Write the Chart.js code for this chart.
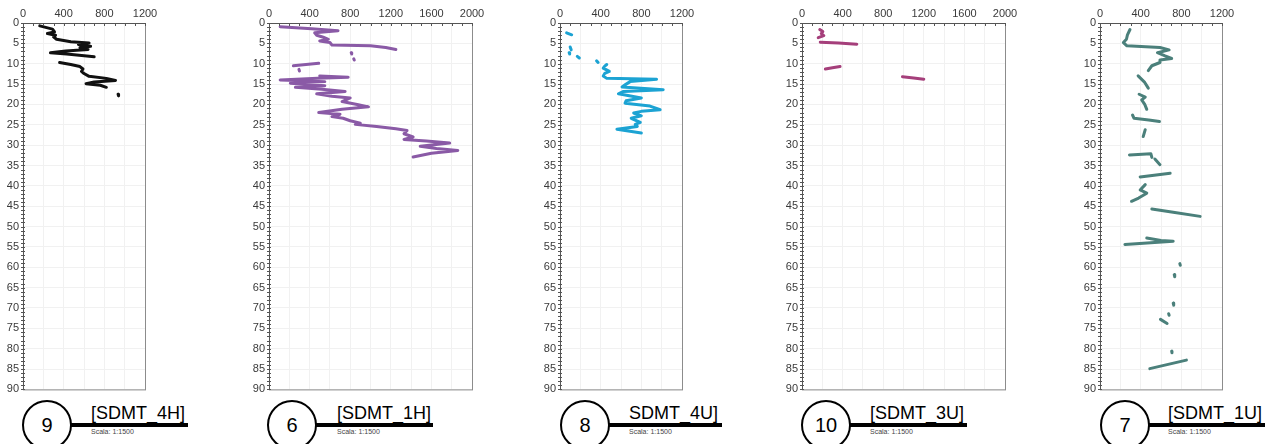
<!DOCTYPE html>
<html>
<head>
<meta charset="utf-8">
<script src="https://cdn.jsdelivr.net/npm/chart.js@4/dist/chart.umd.min.js"></script>
<style>
  body { margin: 0; background: #fff; width: 1266px; height: 444px; position: relative; overflow: hidden; font-family: "Liberation Sans", Arial, sans-serif; }
  canvas { position: absolute; top: 0; }
  .circ { position: absolute; width: 46px; height: 46px; border: 2px solid #000; border-radius: 50%; box-sizing: content-box; text-align: center; line-height: 46px; font-size: 20px; background: #fff; }
  .bar { position: absolute; height: 4px; background: #000; }
  .name { position: absolute; font-size: 18px; line-height: 18px; white-space: nowrap; color: #000; }
  .scala { position: absolute; font-size: 7px; line-height: 7px; color: #444; white-space: nowrap; }
</style>
</head>
<body>
<script>
// ---- dati (profondita' m / valore) ----
var panelNums = ['9', '6', '8', '10', '7'];
var panelNames = ['[SDMT_4H]', '[SDMT_1H]', 'SDMT_4U]', '[SDMT_3U]', '[SDMT_1U]'];
var xMaxs = [1200, 2000, 1200, 2000, 1200];
var colors = ['#111111', '#8a5aa6', '#1ca3d3', '#a53f7b', '#4b807b'];

var depth1 = [0.7, 1.5, 2.2, 2.6, 3.0, 3.4, 4.0, 4.6, 4.9, 5.3, 5.7, 6.1, 6.5, 6.9, 7.3, 7.6, 8.3, null, 9.7, 10.2, 10.7, 11.3, 11.9, 12.4, 13.1, 13.6, 14.1, 14.5, 14.9, 15.3, 15.8, null, 17.5, 17.9];
var val1 = [165, 290, 310, 240, 320, 300, 330, 470, 650, 545, 665, 560, 640, 420, 270, 430, 700, null, 360, 470, 560, 590, 575, 600, 650, 820, 910, 700, 620, 760, 820, null, 935, 940];

var depth2 = [0.9, 1.4, 1.9, 2.4, 3.0, 3.5, 4.0, 4.4, 4.8, 5.4, 5.6, 6.0, 6.5, null, 7.3, 7.6, null, 8.8, 9.1, null, 9.9, 10.5, null, 11.4, 11.8, null, 13.0, 13.3, 13.6, 14.0, 14.4, 14.8, 15.4, 15.8, 16.3, 16.8, 17.4, 18.0, 18.4, 19.3, 20.1, 20.6, 21.2, 22.0, 22.4, 23.0, 23.4, 24.0, 24.6, 24.9, 25.4, 26.0, 26.4, 27.2, 28.0, 28.6, 29.0, 29.5, 30.3, 30.8, 31.3, 32.0, 32.9];
var val2 = [110, 420, 680, 450, 470, 535, 585, 500, 600, 620, 1000, 1150, 1250, null, 810, 815, null, 835, 840, null, 490, 240, null, 295, 300, null, 500, 780, 480, 110, 550, 210, 550, 260, 520, 750, 470, 620, 800, 720, 880, 980, 720, 490, 700, 620, 730, 800, 900, 850, 1060, 1250, 1360, 1330, 1420, 1330, 1550, 1780, 1490, 1650, 1860, 1600, 1420];

var depth3 = [2.4, 2.9, null, 5.9, 6.6, null, 7.3, 7.6, null, 8.2, 8.6, null, 9.3, 9.7, null, 10.2, 10.6, 11.1, 11.9, 12.4, 13.0, 13.6, 13.8, 14.4, 15.2, 15.7, 16.4, 16.8, 17.4, 18.4, 19.1, 19.7, 20.4, 21.3, 21.7, 22.1, 22.8, 23.4, 24.4, 24.9, 25.4, 26.1, 27.0];
var val3 = [65, 115, null, 100, 110, null, 90, 95, null, 170, 190, null, 360, 375, null, 460, 440, 425, 485, 440, 425, 460, 950, 690, 640, 610, 1015, 625, 575, 800, 650, 640, 885, 985, 800, 725, 800, 700, 790, 740, 760, 560, 800];

var depth4 = [1.6, 2.1, 2.6, 3.1, 3.6, null, 4.7, 4.9, 5.2, null, 10.7, 11.0, 11.3, null, 13.2, 13.5, 13.8];
var val4 = [175, 205, 190, 215, 160, null, 180, 360, 540, null, 375, 300, 230, null, 990, 1100, 1200];

var depth5 = [1.6, 2.9, 4.0, 4.8, 5.6, 6.0, 6.6, 7.3, 8.1, 8.7, 9.1, 9.7, 10.5, 11.7, null, 13.0, 14.6, 16.0, null, 17.5, 18.2, 18.9, 20.0, 21.2, null, 22.6, 23.4, 23.8, 24.2, null, 26.2, 27.9, null, 32.4, 32.1, 33.0, null, 33.4, 34.8, null, 37.8, 36.9, null, 39.7, 41.0, 41.8, 43.0, 43.8, null, 45.7, 46.5, 47.5, null, 52.8, 53.4, 53.6, 54.0, 54.4, null, 59.1, 59.5, null, 61.8, 62.3, null, 68.8, 69.3, null, 71.4, 71.8, null, 72.8, 73.8, null, 80.6, 81.0, null, 84.9, 82.8];
var val5 = [295, 270, 260, 230, 265, 590, 680, 565, 640, 705, 590, 590, 510, 475, null, 375, 440, 475, null, 385, 445, 410, 440, 460, null, 320, 335, 480, 585, null, 445, 425, null, 290, 500, 510, null, 540, 590, null, 395, 690, null, 445, 395, 460, 380, 310, null, 510, 720, 985, null, 460, 600, 720, 500, 245, null, 785, 790, null, 730, 735, null, 720, 725, null, 675, 680, null, 595, 660, null, 705, 708, null, 490, 850];

var depths = [depth1, depth2, depth3, depth4, depth5];
var vals = [val1, val2, val3, val4, val5];

// ---- impaginazione ----
var plotLeft = [23, 269, 560, 802, 1100];
var plotRight = [145, 472, 682, 1005, 1222];
var circX = [47, 292, 585, 826, 1125];
var barEnd = [188, 433, 722, 967, 1265];
var nameX = [91, 337, 629, 870, 1168];
var AXW = 30, PADR = 16;

var tickFont = { family: '"Liberation Sans", Arial, sans-serif', size: 11 };

var framePlugin = {
	id: 'frame',
	afterDatasetsDraw: function (chart) {
		var ctx = chart.ctx, a = chart.chartArea, sx = chart.scales.x, sy = chart.scales.y;
		ctx.save();
		ctx.lineWidth = 1;
		ctx.strokeStyle = '#8c8c8c';
		ctx.strokeRect(a.left + 0.5, a.top + 0.5, a.right - a.left, a.bottom - a.top);
		ctx.strokeStyle = '#555';
		ctx.beginPath();
		ctx.moveTo(a.left + 0.5, a.bottom); ctx.lineTo(a.left + 0.5, a.top + 0.5); ctx.lineTo(a.right, a.top + 0.5);
		// tacche minori
		for (var v = 0; v <= sx.max; v += 100) {
			var px = Math.round(sx.getPixelForValue(v)) + 0.5;
			ctx.moveTo(px, a.top); ctx.lineTo(px, a.top + 3);
		}
		for (var d = 0; d <= sy.max; d++) {
			var py = Math.round(sy.getPixelForValue(d)) + 0.5;
			ctx.moveTo(a.left - 2, py); ctx.lineTo(a.left + 2, py);
		}
		ctx.stroke();
		ctx.restore();
	}
};

function toPoints(dep, val) {
	var pts = [];
	for (var i = 0; i < dep.length; i++) {
		pts.push({ x: val[i], y: dep[i] });
	}
	return pts;
}

function addHtml(cls, css, text) {
	var el = document.createElement('div');
	el.className = cls;
	for (var k in css) el.style[k] = css[k] + 'px';
	if (text) el.textContent = text;
	document.body.appendChild(el);
	return el;
}

for (var i = 0; i < 5; i++) {
	var cv = document.createElement('canvas');
	var w = AXW + (plotRight[i] - plotLeft[i]) + PADR;
	cv.width = w; cv.height = 400;
	cv.style.left = (plotLeft[i] - AXW) + 'px';
	cv.style.width = w + 'px'; cv.style.height = '400px';
	document.body.appendChild(cv);

	new Chart(cv.getContext('2d'), {
		type: 'scatter',
		data: {
			datasets: [{
				data: toPoints(depths[i], vals[i]),
				showLine: true,
				spanGaps: false,
				borderColor: colors[i],
				backgroundColor: colors[i],
				borderWidth: 3,
				borderCapStyle: 'round',
				borderJoinStyle: 'round',
				pointRadius: 0,
				tension: 0
			}]
		},
		options: {
			responsive: false,
			animation: false,
			devicePixelRatio: 1,
			layout: { padding: { top: 0, left: 0, right: PADR, bottom: 10 } },
			plugins: { legend: { display: false }, tooltip: { enabled: false } },
			scales: {
				x: {
					type: 'linear', position: 'top', min: 0, max: xMaxs[i],
					afterFit: function (s) { s.height = 23; },
					border: { display: false },
					grid: { color: '#f1f1f1', drawTicks: false },
					ticks: {
						stepSize: 200, autoSkip: false, maxRotation: 0, padding: 2,
						color: '#3a3a3a', font: tickFont,
						callback: function (v) { return v % 400 === 0 ? String(v) : ''; }
					}
				},
				y: {
					type: 'linear', reverse: true, min: 0, max: 90,
					afterFit: function (s) { s.width = AXW; },
					border: { display: false },
					grid: { color: '#f1f1f1', drawTicks: false },
					ticks: {
						stepSize: 5, autoSkip: false, padding: 4,
						color: '#3a3a3a', font: tickFont,
						callback: function (v) { return String(v); }
					}
				}
			}
		},
		plugins: [framePlugin]
	});

	// cartiglio sotto il grafico
	addHtml('bar', { left: circX[i], top: 423, width: barEnd[i] - circX[i] });
	addHtml('circ', { left: circX[i] - 25, top: 400 }, panelNums[i]);
	addHtml('name', { left: nameX[i], top: 404 }, panelNames[i]);
	addHtml('scala', { left: nameX[i], top: 428 }, 'Scala: 1:1500');
}
</script>
</body>
</html>
